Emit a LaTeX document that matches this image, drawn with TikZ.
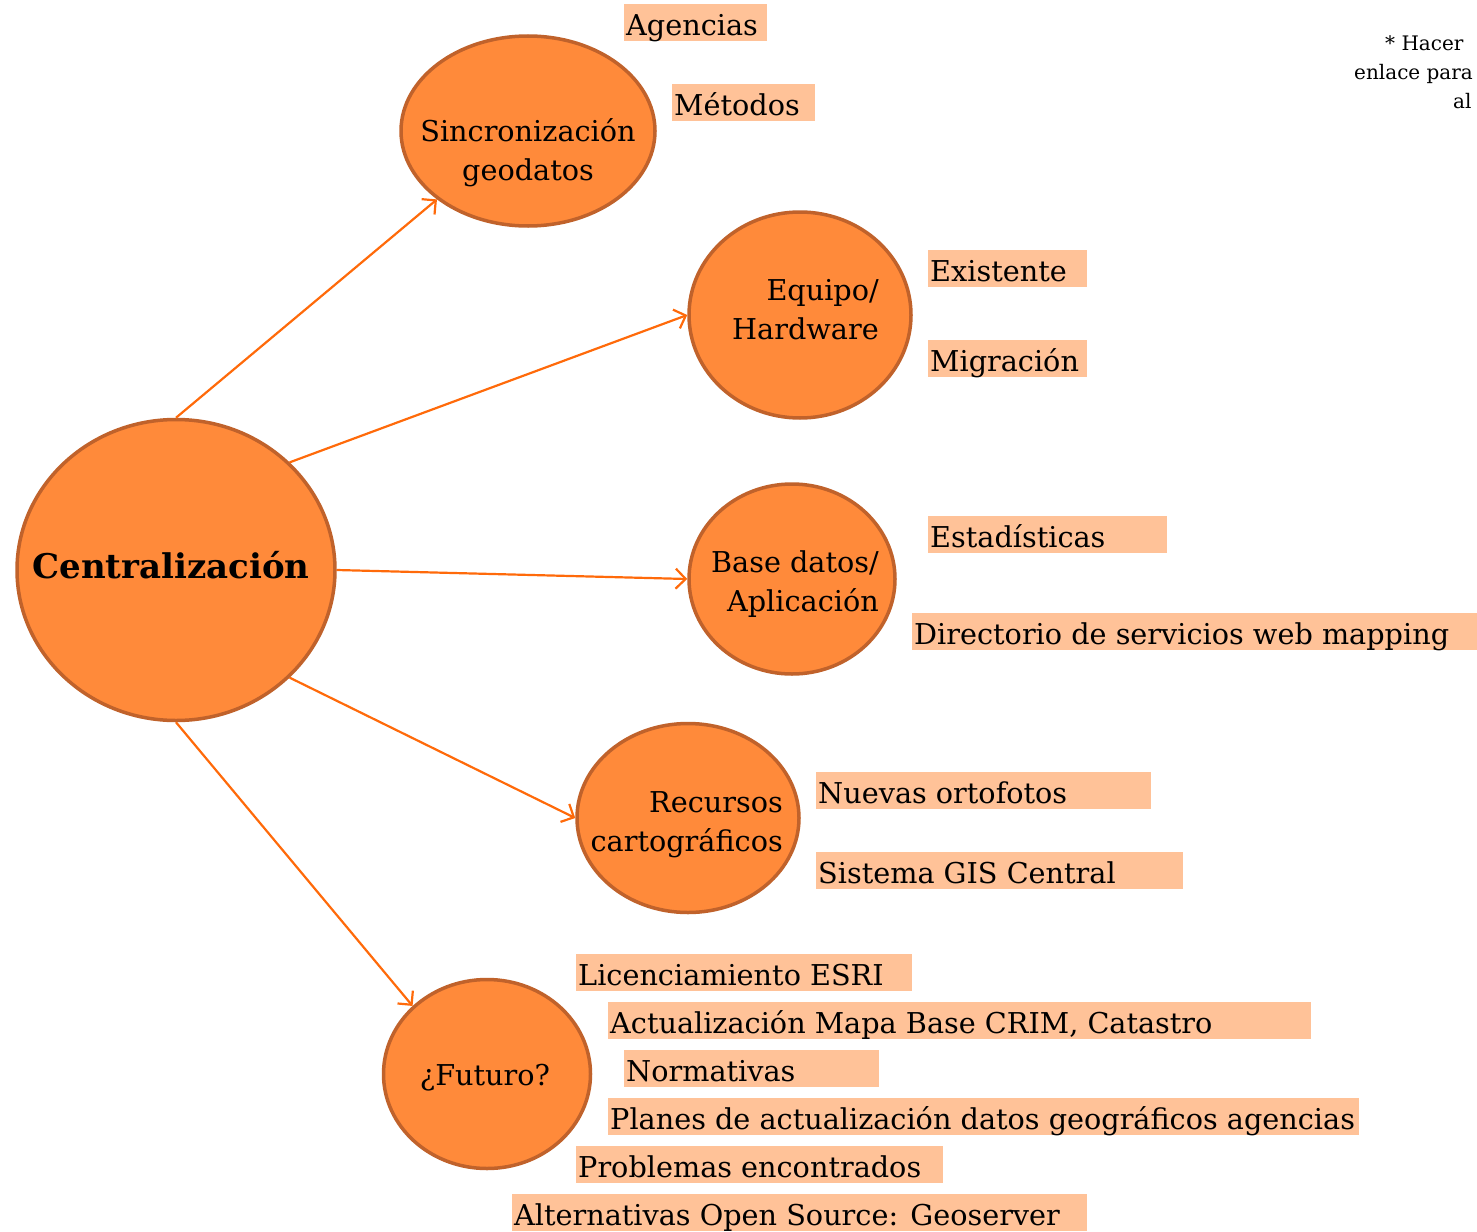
\documentclass[tikz,border=0pt]{standalone}
\usepackage{fontspec}
\setmainfont{DejaVu Serif}
\usetikzlibrary{shapes.geometric,arrows.meta}
\definecolor{orfill}{HTML}{FF8A3A}
\definecolor{orline}{HTML}{C0622B}
\definecolor{arrcol}{HTML}{FF6A0A}
\definecolor{peach}{HTML}{FFC298}
\newcommand{\hlbox}[2]{\makebox[#1][l]{#2}}
\begin{document}
\begin{tikzpicture}[x=1pt,y=-1pt,
  bubble/.style={ellipse, fill=orfill, draw=orline, line width=3.5pt, inner sep=0pt},
  btext/.style={inner sep=0pt, font=\fontsize{28.7}{38}\selectfont},
  conn/.style={draw=arrcol, line width=2.2pt, -{Straight Barb[length=10pt,width=20pt]}},
  hl/.style={fill=peach, anchor=south west, inner xsep=2pt, inner ysep=2pt, text height=30pt, text depth=3pt, font=\fontsize{28.7}{34}\selectfont}]
\useasboundingbox (0,0) rectangle (1477,1231);

% bubbles
\node[bubble, minimum width=318pt, minimum height=301pt] (cen) at (176,570) {};
\node[bubble, minimum width=254pt, minimum height=190pt] (sinc) at (528,131) {};
\node[bubble, minimum width=222pt, minimum height=206pt] (eq) at (800,315) {};
\node[bubble, minimum width=206pt, minimum height=190pt] (bd) at (792,579) {};
\node[bubble, minimum width=222pt, minimum height=189pt] (rec) at (688,818) {};
\node[bubble, minimum width=207pt, minimum height=189pt] (fut) at (487,1074) {};

% bubble texts
\node[btext, anchor=base, font=\fontsize{34}{40}\selectfont\bfseries] (cent) at (171,578) {Centralización};
\node[btext, anchor=base] (sinc1) at (528,141) {Sincronización};
\node[btext, anchor=base] (sinc2) at (528,180) {geodatos};
\node[btext, anchor=base east] (eq1) at (879,300) {Equipo/};
\node[btext, anchor=base east] (eq2) at (879,339) {Hardware};
\node[btext, anchor=base east] (bd1) at (879,572) {Base datos/};
\node[btext, anchor=base east] (bd2) at (879,611) {Aplicación};
\node[btext, anchor=base east] (rec1) at (783,812) {Recursos};
\node[btext, anchor=base east] (rec2) at (783,851) {cartográficos};
\node[btext, anchor=base] (fut1) at (485,1085) {¿Futuro?};

% connectors
\draw[conn] (cen.north) -- (sinc.south west);
\draw[conn] (cen.north east) -- (eq.west);
\draw[conn] (cen.east) -- (bd.west);
\draw[conn] (cen.south east) -- (rec.west);
\draw[conn] (cen.south) -- (fut.north west);

% highlighted labels
\node[hl] (ag) at (624,41) {\hlbox{139pt}{Agencias}};
\node[hl] (met) at (672,121) {\hlbox{139pt}{Métodos}};
\node[hl] (exi) at (928,287) {\hlbox{155pt}{Existente}};
\node[hl] (mig) at (928,377) {\hlbox{155pt}{Migración}};
\node[hl] (est) at (928,553) {\hlbox{235pt}{Estadísticas}};
\node[hl] (dir) at (912,650) {\hlbox{561pt}{Directorio de servicios web mapping}};
\node[hl] (nue) at (816,809) {\hlbox{331pt}{Nuevas ortofotos}};
\node[hl] (sis) at (816,889) {\hlbox{363pt}{Sistema GIS Central}};
\node[hl] (lic) at (576,991) {\hlbox{332pt}{Licenciamiento ESRI}};
\node[hl] (act) at (608,1039) {\hlbox{699pt}{Actualización Mapa Base CRIM, Catastro}};
\node[hl] (nor) at (624,1087) {\hlbox{251pt}{Normativas}};
\node[hl] (pla) at (608,1135) {\hlbox{747pt}{Planes de actualización datos geográficos agencias}};
\node[hl] (pro) at (576,1183) {\hlbox{363pt}{Problemas encontrados}};
\node[hl] (alt) at (512,1231) {\hlbox{571pt}{Alternativas Open Source: Geoserver}};

% note (cut at the right edge)
\node[anchor=north west, inner sep=0pt, align=left, font=\fontsize{20}{29}\selectfont] (note) at (1354,35) {\hspace*{31pt}* Hacer\\enlace para\\\hspace*{99pt}al};
\end{tikzpicture}
\end{document}
